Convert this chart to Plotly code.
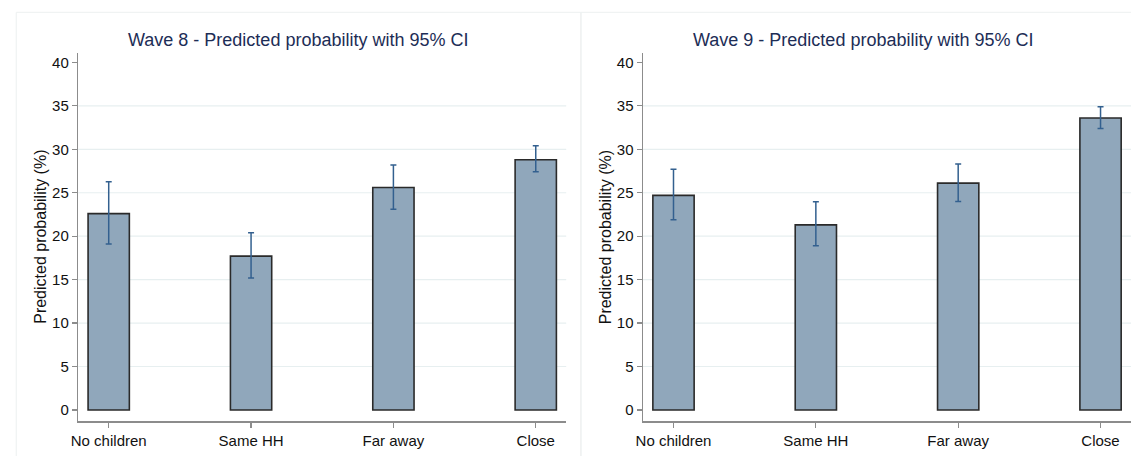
import plotly.graph_objects as go

categories = ["No children", "Same HH", "Far away", "Close"]

wave8_value = [22.6, 17.7, 25.6, 28.8]
wave8_lower = [19.1, 15.2, 23.1, 27.4]
wave8_upper = [26.25, 20.4, 28.2, 30.4]

wave9_value = [24.7, 21.3, 26.1, 33.6]
wave9_lower = [21.9, 18.9, 24.0, 32.4]
wave9_upper = [27.7, 23.95, 28.3, 34.9]

y_ticks = [0, 5, 10, 15, 20, 25, 30, 35, 40]
grid_vals = [5, 10, 15, 20, 25, 30, 35]

titles = ["Wave 8 - Predicted probability with 95% CI",
          "Wave 9 - Predicted probability with 95% CI"]
y_title = "Predicted probability (%)"

W, H = 1131, 456
FONT = "Liberation Sans, Arial, Helvetica, sans-serif"
BAR_FILL = "#90a7bb"
BAR_LINE = "#2a2a2a"
ERR_COL = "#33608f"
AXIS_COL = "#8c8c8c"
GRID_COL = "#e7eff0"
TITLE_COL = "#1d2d56"

fig = go.Figure()

panels = [
    (wave8_value, wave8_lower, wave8_upper, "x", "y"),
    (wave9_value, wave9_lower, wave9_upper, "x2", "y2"),
]

for vals, lo, hi, xa, ya in panels:
    fig.add_trace(go.Bar(
        x=categories, y=vals, xaxis=xa, yaxis=ya,
        width=0.29,
        marker=dict(color=BAR_FILL, line=dict(color=BAR_LINE, width=1.6)),
        error_y=dict(type="data",
                     array=[h - v for h, v in zip(hi, vals)],
                     arrayminus=[v - l for v, l in zip(vals, lo)],
                     color=ERR_COL, thickness=1.5, width=3),
        showlegend=False, hoverinfo="skip",
    ))

ydom = [1 - 421 / H, 1 - 53 / H]
xdom1 = [71.7 / W, 562.7 / W]
xdom2 = [640 / W, 1131 / W]
xrange_ = [-0.214, 3.214]
yrange_ = [-1.27, 41.08]

xcommon = dict(range=xrange_, showgrid=False, zeroline=False, showline=True,
               linecolor=AXIS_COL, linewidth=1.5, ticks="outside", ticklen=5,
               tickcolor=AXIS_COL, tickwidth=1.2,
               tickfont=dict(family=FONT, size=15, color="#111111"),
               fixedrange=True)
ycommon = dict(range=yrange_, showgrid=False, zeroline=False, showline=True,
               linecolor=AXIS_COL, linewidth=1.5, ticks="outside", ticklen=5,
               tickcolor=AXIS_COL, tickwidth=1.2, tickvals=y_ticks,
               tickfont=dict(family=FONT, size=15, color="#111111"),
               domain=ydom, fixedrange=True)

fig.update_layout(
    width=W, height=H,
    margin=dict(l=0, r=0, t=0, b=0),
    paper_bgcolor="white", plot_bgcolor="white",
    xaxis=dict(xcommon, domain=xdom1, anchor="y"),
    yaxis=dict(ycommon, anchor="x"),
    xaxis2=dict(xcommon, domain=xdom2, anchor="y2"),
    yaxis2=dict(ycommon, anchor="x2"),
    bargap=0,
)

shapes = []
# panel frames
shapes.append(dict(type="rect", xref="paper", yref="paper",
                   x0=9.3 / W, x1=577.5 / W, y0=-0.2, y1=1 - 12.3 / H,
                   line=dict(color="#edf0f0", width=1), layer="below"))
shapes.append(dict(type="rect", xref="paper", yref="paper",
                   x0=577.5 / W, x1=1.2, y0=-0.2, y1=1 - 12.3 / H,
                   line=dict(color="#edf0f0", width=1), layer="below"))
# gridlines
for xr, yr in [("x domain", "y"), ("x2 domain", "y2")]:
    for g in grid_vals:
        shapes.append(dict(type="line", xref=xr, yref=yr, x0=0, x1=1, y0=g, y1=g,
                           line=dict(color=GRID_COL, width=1.2), layer="below"))
fig.update_layout(shapes=shapes)

annotations = []
for t, cx in zip(titles, [293 / W, 861 / W]):
    annotations.append(dict(text=t, x=cx, y=1 - 40 / H, xref="paper", yref="paper",
                            xanchor="center", yanchor="middle", showarrow=False,
                            font=dict(family=FONT, size=18, color=TITLE_COL)))
for cx in [33 / W, 602 / W]:
    annotations.append(dict(text=y_title, x=cx, y=1 - 237 / H, xref="paper", yref="paper",
                            xanchor="center", yanchor="middle", showarrow=False,
                            textangle=-90,
                            font=dict(family=FONT, size=16, color="#111111")))
fig.update_layout(annotations=annotations)

fig.write_html("out.html",
               config={"displayModeBar": False, "staticPlot": True},
               post_script="document.body.style.margin='0';document.body.style.overflow='hidden';")
